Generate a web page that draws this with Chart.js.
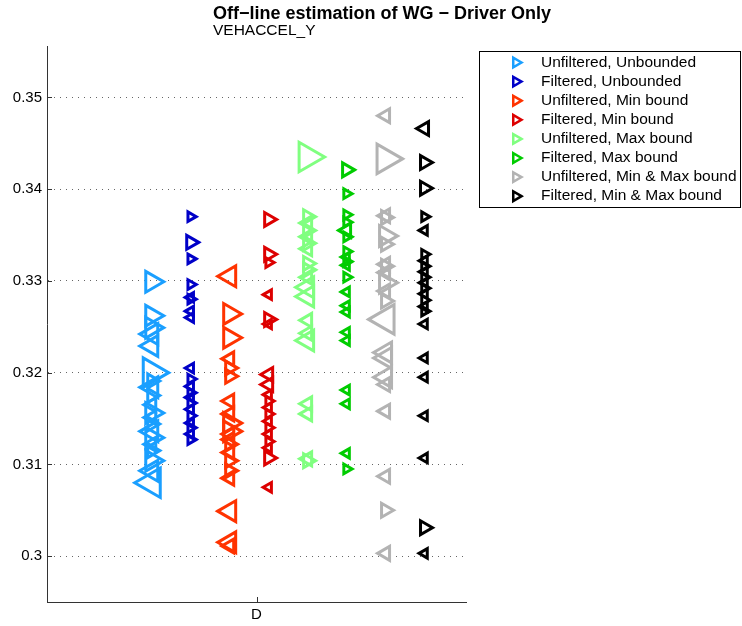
<!DOCTYPE html>
<html>
<head>
<meta charset="utf-8">
<script src="https://cdn.jsdelivr.net/npm/chart.js@4.4.0/dist/chart.umd.min.js"></script>
<style>
  html, body { margin: 0; padding: 0; background: #fff; }
  canvas { display: block; }
</style>
</head>
<body>
<canvas id="WgChart" width="742" height="626"></canvas>
<script>
const categories = ['D'];
const yTicks = [0.30, 0.31, 0.32, 0.33, 0.34, 0.35];
const seriesNames = [
  'Unfiltered, Unbounded', 'Filtered, Unbounded',
  'Unfiltered, Min bound', 'Filtered, Min bound',
  'Unfiltered, Max bound', 'Filtered, Max bound',
  'Unfiltered, Min & Max bound', 'Filtered, Min & Max bound',
];

// WG estimates per run; marker code: sign = direction (+ '>', - '<'), magnitude = weight class
const unfUnbY = [0.3299, 0.3262, 0.3249, 0.3242, 0.3229, 0.3200, 0.3191, 0.3184, 0.3175, 0.3165, 0.3156, 0.3151, 0.3144, 0.3136, 0.3129, 0.3122, 0.3115, 0.3104, 0.3093, 0.3080];
const unfUnbM = [3, 3, 3, -3, -3, 4, 2, -3, 2, -2, 3, -2, 2, -3, 3, -2, 2, 3, -3, -4];
const filUnbY = [0.3370, 0.3342, 0.3324, 0.3296, 0.3282, 0.3280, 0.3267, 0.3260, 0.3205, 0.3193, 0.3185, 0.3178, 0.3173, 0.3167, 0.3160, 0.3153, 0.3145, 0.3140, 0.3133, 0.3127];
const filUnbM = [1, 2, 1, 1, -1, 1, -1, -1, -1, 1, -1, 1, -1, 1, -1, 1, -1, 1, -1, 1];
const unfMinY = [0.3305, 0.3264, 0.3238, 0.3215, 0.3205, 0.3196, 0.3169, 0.3155, 0.3145, 0.3136, 0.3133, 0.3127, 0.3122, 0.3113, 0.3104, 0.3093, 0.3085, 0.3049, 0.3015, 0.3011];
const unfMinM = [-3, 3, 3, -2, 2, 2, -2, -2, 3, 3, -2, -2, 2, -2, 2, 2, -2, -3, -3, -2];
const filMinY = [0.3367, 0.3329, 0.3320, 0.3285, 0.3258, 0.3253, 0.3198, 0.3187, 0.3176, 0.3169, 0.3162, 0.3155, 0.3147, 0.3140, 0.3133, 0.3125, 0.3118, 0.3107, 0.3075];
const filMinM = [2, 2, 1, -1, 2, -1, -2, -2, -1, 1, -1, 1, -1, 1, -1, 1, -1, 2, -1];
const unfMaxY = [0.3435, 0.3370, 0.3363, 0.3355, 0.3348, 0.3341, 0.3335, 0.3319, 0.3312, 0.3304, 0.3293, 0.3283, 0.3257, 0.3243, 0.3235, 0.3166, 0.3155, 0.3106, 0.3104];
const unfMaxM = [4, 2, -2, 2, -2, 2, -2, 2, 2, -2, -3, -3, -2, -2, -3, -2, -2, -2, 2];
const filMaxY = [0.3421, 0.3395, 0.3372, 0.3364, 0.3355, 0.3348, 0.3332, 0.3326, 0.3321, 0.3317, 0.3304, 0.3288, 0.3273, 0.3266, 0.3244, 0.3235, 0.3181, 0.3166, 0.3112, 0.3095];
const filMaxM = [2, 1, 1, 1, -2, 1, 1, -1, 1, -1, 1, -1, -1, -1, -1, -1, -1, -1, -1, 1];
const unfBothY = [0.3480, 0.3433, 0.3371, 0.3369, 0.3349, 0.3340, 0.3318, 0.3316, 0.3309, 0.3298, 0.3289, 0.3278, 0.3258, 0.3222, 0.3216, 0.3195, 0.3187, 0.3158, 0.3087, 0.3050, 0.3003];
const unfBothM = [-2, 4, -2, 2, 3, 2, -2, 2, -2, 3, -2, 2, -4, -3, -3, -3, -2, -2, -2, 2, -2];
const filBothY = [0.3466, 0.3429, 0.3401, 0.3370, 0.3355, 0.3329, 0.3322, 0.3316, 0.3310, 0.3304, 0.3298, 0.3292, 0.3286, 0.3279, 0.3272, 0.3267, 0.3253, 0.3216, 0.3195, 0.3153, 0.3107, 0.3031, 0.3003];
const filBothM = [-2, 2, 2, 1, -1, 1, -1, 1, -1, 1, -1, 1, -1, 1, -1, 1, -1, -1, -1, -1, -1, 2, -1];

const seriesY = [unfUnbY, filUnbY, unfMinY, filMinY, unfMaxY, filMaxY, unfBothY, filBothY];
const seriesM = [unfUnbM, filUnbM, unfMinM, filMinM, unfMaxM, filMaxM, unfBothM, filBothM];
const colors = ['#1a9fff', '#0000c8', '#ff3300', '#dd0000', '#80ff80', '#00cc00', '#b3b3b3', '#000000'];
const radii = [0, 5.5, 8, 12, 17];
const font = 'Liberation Sans, Arial, Helvetica, sans-serif';

// groups spread round the single category
const groupX = i => 1 - 0.5 + i * 0.186;

const datasets = seriesNames.map((name, i) => ({
  label: name,
  data: seriesY[i].map(v => ({ x: groupX(i), y: v })),
  showLine: false,
  borderColor: colors[i],
  backgroundColor: 'rgba(0,0,0,0)',
  pointStyle: 'triangle',
  pointBorderWidth: 3,
  pointRadius: ctx => radii[Math.abs(seriesM[i][ctx.dataIndex])],
  pointRotation: ctx => (seriesM[i][ctx.dataIndex] > 0 ? 90 : -90),
}));

const drawTri = (ctx, x, y, r, right) => {
  const d = right ? 1 : -1;
  ctx.beginPath();
  ctx.moveTo(x + d * r, y);
  ctx.lineTo(x - d * r / 2, y - r * 0.866);
  ctx.lineTo(x - d * r / 2, y + r * 0.866);
  ctx.closePath();
  ctx.stroke();
};

const extras = {
  id: 'extras',
  afterDraw(chart) {
    const { ctx, chartArea: a, scales: { x, y } } = chart;
    ctx.save();
    // inward tick marks
    ctx.strokeStyle = '#333';
    ctx.lineWidth = 1;
    ctx.beginPath();
    yTicks.forEach(v => {
      const py = Math.round(y.getPixelForValue(v)) + 0.5;
      ctx.moveTo(a.left, py);
      ctx.lineTo(a.left + 5, py);
    });
    const px = Math.round(x.getPixelForValue(1)) + 0.5;
    ctx.moveTo(px, a.bottom);
    ctx.lineTo(px, a.bottom - 5);
    ctx.stroke();

    // title and subtitle
    ctx.fillStyle = '#000';
    ctx.textBaseline = 'middle';
    ctx.textAlign = 'left';
    ctx.font = 'bold 18px ' + font;
    const title = 'Off\u2212line estimation of WG \u2212 Driver Only';
    const tx = 382 - ctx.measureText(title).width / 2;
    ctx.fillText(title, tx, 14);
    ctx.font = '15.5px ' + font;
    ctx.fillText('VEHACCEL_Y', tx, 31);

    // legend
    ctx.strokeStyle = '#000';
    ctx.lineWidth = 1;
    ctx.strokeRect(479.5, 51.5, 261, 156);
    ctx.font = '15.5px ' + font;
    chart.data.datasets.forEach((ds, i) => {
      const ly = 62.5 + i * 19.1;
      ctx.strokeStyle = ds.borderColor;
      ctx.lineWidth = 2.5;
      drawTri(ctx, 516, ly, 5.5, true);
      ctx.fillStyle = '#000';
      ctx.fillText(ds.label, 541, ly);
    });
    ctx.restore();
  },
};

new Chart(document.getElementById('WgChart'), {
  type: 'scatter',
  data: { datasets },
  options: {
    responsive: false,
    animation: false,
    events: [],
    layout: { padding: { left: 0, right: 276, top: 46, bottom: 0 } },
    plugins: { legend: { display: false }, title: { display: false }, tooltip: { enabled: false } },
    scales: {
      x: {
        type: 'linear',
        min: 0,
        max: 2,
        afterBuildTicks: s => { s.ticks = [{ value: 1 }]; },
        afterFit: s => { s.height = 24; },
        ticks: { callback: () => categories[0], color: '#000', padding: 4, font: { family: font, size: 15 } },
        grid: { display: false, drawTicks: false },
        border: { display: true, color: '#333' },
      },
      y: {
        min: 0.295,
        max: 0.3556,
        afterBuildTicks: s => { s.ticks = yTicks.map(v => ({ value: v })); },
        afterFit: s => { s.width = 47; },
        ticks: { callback: v => String(+v.toFixed(2)), color: '#000', padding: 5, font: { family: font, size: 15 } },
        grid: { color: '#666', drawTicks: false, lineWidth: 1 },
        border: { display: true, color: '#333', dash: [1, 5] },
      },
    },
  },
  plugins: [extras],
});
</script>
</body>
</html>
